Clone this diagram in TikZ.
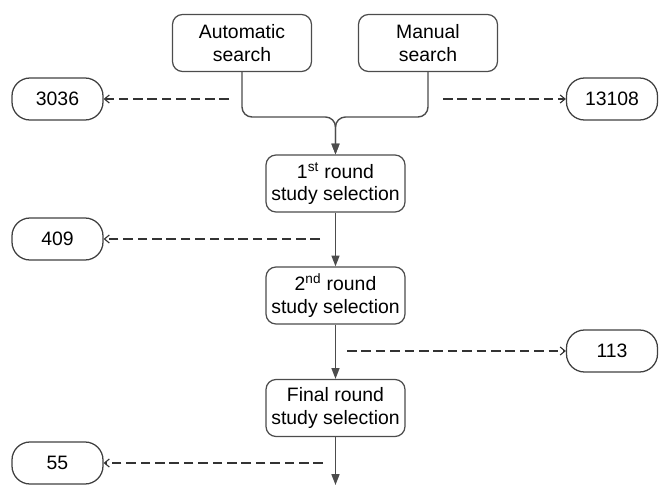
\documentclass[tikz,border=0pt]{standalone}
\usepackage{fontspec}
\setmainfont{Liberation Sans}
\usetikzlibrary{arrows.meta}

\def\midx{8.3875}
\def\leftx{1.4375}
\def\rightx{15.3}

\begin{document}
\begin{tikzpicture}[font=\fontsize{13.8}{15.8}\selectfont]
		\tikzstyle{every node}=[align=center]
		\tikzstyle{box}=[draw=black!70,line width=0.9pt,rounded corners=0.25cm,minimum width=3.475cm,minimum height=1.425cm,inner sep=1pt]
		\tikzstyle{count}=[draw=black!75,line width=0.9pt,rounded corners=0.45cm,minimum width=2.275cm,minimum height=1.05cm]
		\tikzstyle{flow}=[draw=black!70,line width=1pt,-{Triangle[length=0.27cm,width=0.2cm]}]
		\tikzstyle{drop}=[draw=black!80,line width=0.8pt,dash pattern=on 0.24cm off 0.12cm,-{Straight Barb[length=0.12cm,width=0.2cm]}]

		\useasboundingbox (0,0) rectangle (16.5,-12.125);

			% Draw the search boxes
		\node[box] (auto) at (6.05,-1.075) {Automatic\\search};
		\node[box] (manual) at (10.7,-1.075) {Manual\\search};

			% Draw the selection rounds
		\node[box] (first) at (\midx,-4.5875) {1\textsuperscript{st} round\\study selection};
		\node[box] (second) at (\midx,-7.3875) {2\textsuperscript{nd} round\\study selection};
		\node[box] (final) at (\midx,-10.2) {Final round\\study selection};

			% Draw the counts
		\node[count] (c-3036) at (\leftx,-2.475) {3036};
		\node[count] (c-13108) at (\rightx,-2.475) {13108};
		\node[count] (c-409) at (\leftx,-5.975) {409};
		\node[count] (c-113) at (\rightx,-8.775) {113};
		\node[count] (c-55) at (\leftx,-11.575) {55};

		\coordinate (merge) at (\midx,-2.925);
		\coordinate (end) at (\midx,-12.125);
		\coordinate (d-3036) at (5.725,-2.475);
		\coordinate (d-13108) at (11.075,-2.475);
		\coordinate (d-409) at (8.0,-5.975);
		\coordinate (d-113) at (8.675,-8.775);
		\coordinate (d-55) at (8.075,-11.575);

			% Connect the boxes
		\draw[flow,rounded corners=0.25cm] (auto.south) |- (merge) -- (first.north);
		\draw[flow,rounded corners=0.25cm] (manual.south) |- (merge) -- (first.north);
		\draw[flow] (first) -- (second);
		\draw[flow] (second) -- (final);
		\draw[flow] (final) -- (end);

			% Excluded studies
		\draw[drop] (d-3036) -- (c-3036);
		\draw[drop] (d-13108) -- (c-13108);
		\draw[drop] (d-409) -- (c-409);
		\draw[drop] (d-113) -- (c-113);
		\draw[drop] (d-55) -- (c-55);
		\end{tikzpicture}
\end{document}
